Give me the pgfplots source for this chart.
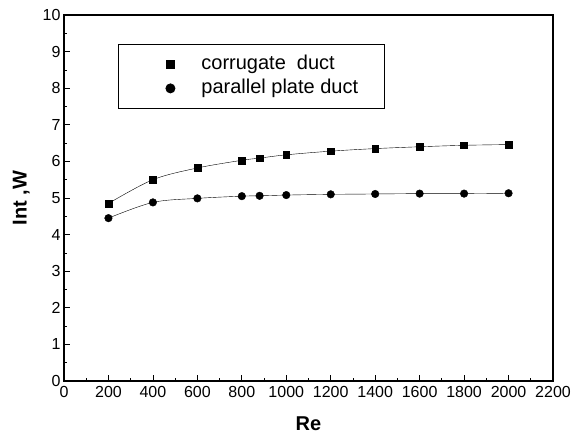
\documentclass[border=0pt]{standalone}
\usepackage{fontspec}
\setmainfont{Liberation Sans}
\usepackage{pgfplots}
\pgfplotsset{compat=1.18}

\begin{document}
\begin{tikzpicture}
\begin{axis}[scale only axis,width=489pt,height=366pt,
  xmin=0,xmax=2200,ymin=0,ymax=10,
  xtick={0,200,...,2200},ytick={0,1,...,10},
  minor x tick num=1,minor y tick num=1,
  tick pos=left,tick align=inside,
  major tick length=6pt,minor tick length=3.5pt,
  every tick/.style={black,line width=0.8pt},
  axis line style={line width=1.2pt},
  /pgf/number format/assume math mode=true,
  /pgf/number format/1000 sep={},
  tick label style={font=\fontsize{16}{18}\selectfont},
  xticklabel style={yshift=-2pt},
  xlabel={\textbf{Re}},ylabel={\textbf{Int ,W}},
  label style={font=\fontsize{20}{22}\selectfont},
  xlabel style={yshift=-12pt},ylabel style={yshift=6pt},
  legend image code/.code={%
    \path[draw=none] (-17.5pt,0pt) (39.5pt,0pt);
    \draw[#1,mark options={scale=1.2}] plot[only marks] coordinates {(0.3cm,0cm)};},
  legend style={at={(rel axis cs:0,1)},anchor=north west,
    xshift=54pt,yshift=-29pt,
    font=\fontsize{20}{22}\selectfont,draw=black,line width=0.8pt,
    inner xsep=26pt,inner ysep=11pt,row sep=6pt,
    nodes={inner sep=0pt,text height=14pt,text depth=4pt}},
  legend cell align=left]
\addplot[black,smooth,tension=0.55,mark=square*,mark size=3.4pt,
  mark options={solid}] coordinates {
  (200,4.85) (400,5.50) (600,5.82) (800,6.03) (880,6.09) (1000,6.18)
  (1200,6.28) (1400,6.35) (1600,6.40) (1800,6.44) (2000,6.46)};
\addplot[black,smooth,tension=0.55,mark=*,mark size=3.8pt] coordinates {
  (200,4.45) (400,4.88) (600,4.99) (800,5.05) (880,5.06) (1000,5.08)
  (1200,5.10) (1400,5.11) (1600,5.12) (1800,5.12) (2000,5.13)};
\legend{corrugate\ \ duct,parallel plate duct}
\end{axis}
\pgfresetboundingbox
\path (current axis.south west) +(-64pt,-59pt)
      (current axis.north east) +(19pt,15pt);
\end{tikzpicture}
\end{document}
